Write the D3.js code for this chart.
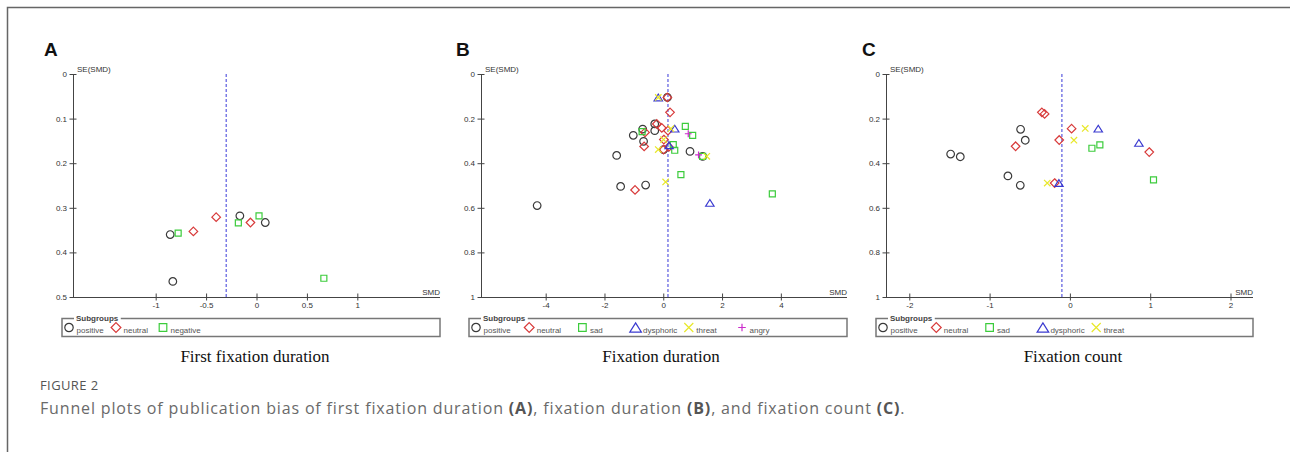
<!DOCTYPE html>
<html>
<head>
<meta charset="utf-8">
<script src="https://cdn.jsdelivr.net/npm/d3@7"></script>
<style>
  body { margin: 0; background: #fff; }
  svg { display: block; }
</style>
</head>
<body>
<script>
// funnel plot data: [SMD, SE(SMD)] per study
const aPositive = [[-0.856, 0.360], [-0.83, 0.465], [-0.165, 0.318], [0.087, 0.333]];
const aNeutral = [[-0.626, 0.353], [-0.40, 0.321], [-0.06, 0.333]];
const aNegative = [[-0.777, 0.357], [-0.18, 0.334], [0.025, 0.318], [0.668, 0.458]];

const bPositive = [[-4.29, 0.590], [-1.585, 0.365], [-1.45, 0.504], [-1.02, 0.275], [-0.70, 0.247],
  [-0.67, 0.302], [-0.60, 0.498], [-0.29, 0.224], [-0.29, 0.254], [0.14, 0.105], [0.01, 0.339],
  [0.91, 0.347], [1.34, 0.369]];
const bNeutral = [[0.14, 0.105], [0.23, 0.172], [-0.22, 0.224], [-0.05, 0.242], [0.16, 0.254],
  [-0.62, 0.262], [-0.65, 0.325], [0.02, 0.294], [0.01, 0.339], [0.19, 0.327], [-0.96, 0.52]];
const bSad = [[0.75, 0.235], [1.0, 0.275], [0.34, 0.317], [0.39, 0.342], [0.60, 0.451],
  [3.71, 0.538], [-0.72, 0.258], [1.34, 0.369]];
const bDysphoric = [[-0.17, 0.105], [0.39, 0.245], [1.585, 0.578], [0.2, 0.32]];
const bThreat = [[-0.17, 0.105], [0.26, 0.245], [-0.17, 0.339], [0.08, 0.484], [1.48, 0.369], [0.01, 0.294]];
const bAngry = [[0.85, 0.268], [1.2, 0.363]];

const cPositive = [[-1.485, 0.359], [-1.365, 0.371], [-0.614, 0.248], [-0.556, 0.297], [-0.772, 0.457], [-0.618, 0.499]];
const cNeutral = [[-0.349, 0.172], [-0.315, 0.179], [-0.676, 0.324], [-0.133, 0.296], [0.021, 0.245],
  [0.988, 0.350], [-0.19, 0.489]];
const cSad = [[0.274, 0.333], [0.373, 0.318], [1.041, 0.475]];
const cDysphoric = [[0.353, 0.245], [0.859, 0.309], [-0.137, 0.489]];
const cThreat = [[0.191, 0.244], [0.05, 0.297], [-0.282, 0.489]];

// pooled SMD (dashed line) per panel
const pooledSMD = [-0.30, 0.16, -0.10];

// tick labels
const aXTicks = [-1, -0.5, 0, 0.5, 1];
const aYTicks = [0, 0.1, 0.2, 0.3, 0.4, 0.5];
const bXTicks = [-4, -2, 0, 2, 4];
const bYTicks = [0, 0.2, 0.4, 0.6, 0.8, 1];
const cXTicks = [-2, -1, 0, 1, 2];
const cYTicks = [0, 0.2, 0.4, 0.6, 0.8, 1];

const panelTitles = ["First fixation duration", "Fixation duration", "Fixation count"];

const shapes = {
  positive: { shape: "circle", color: "#3a3a3a", r: 3.8, lr: 4.2 },
  neutral: { shape: "diamond", color: "#d83a3a", r: 4.3, lr: 4.9 },
  negative: { shape: "square", color: "#3ccc3c", r: 3, lr: 3.8 },
  sad: { shape: "square", color: "#3ccc3c", r: 3, lr: 3.8 },
  dysphoric: { shape: "triangle", color: "#3a3ad0", r: 4.2, lr: 5.8 },
  threat: { shape: "x", color: "#e8e82a", r: 3.2, lr: 4.5 },
  angry: { shape: "plus", color: "#cc2ccc", r: 3.4, lr: 3.8 }
};

function markerPath(shape, r) {
  const p = d3.path();
  if (shape === "circle") {
    p.moveTo(r, 0);
    p.arc(0, 0, r, 0, 2 * Math.PI);
  } else if (shape === "diamond") {
    p.moveTo(0, -r); p.lineTo(r, 0); p.lineTo(0, r); p.lineTo(-r, 0); p.closePath();
  } else if (shape === "square") {
    p.rect(-r, -r, 2 * r, 2 * r);
  } else if (shape === "triangle") {
    const h = r * 1.6;
    p.moveTo(0, -h / 2); p.lineTo(r, h / 2); p.lineTo(-r, h / 2); p.closePath();
  } else if (shape === "x") {
    p.moveTo(-r, -r); p.lineTo(r, r); p.moveTo(r, -r); p.lineTo(-r, r);
  } else {
    p.moveTo(-r, 0); p.lineTo(r, 0); p.moveTo(0, -r); p.lineTo(0, r);
  }
  return p.toString();
}

const panels = [
  { letter: "A", lx: 44, left: 73, right: 440, xDomain: [-1.82, 1.82], yDomain: [0, 0.5],
    xTicks: aXTicks, yTicks: aYTicks, pooled: pooledSMD[0], title: panelTitles[0], tx: 255,
    legLeft: 62, legStep: 47,
    series: [["positive", aPositive], ["neutral", aNeutral], ["negative", aNegative]] },
  { letter: "B", lx: 456, left: 481, right: 847, xDomain: [-6.2, 6.25], yDomain: [0, 1],
    xTicks: bXTicks, yTicks: bYTicks, pooled: pooledSMD[1], title: panelTitles[1], tx: 661,
    legLeft: 469, legStep: 53.2,
    series: [["positive", bPositive], ["neutral", bNeutral], ["sad", bSad],
      ["dysphoric", bDysphoric], ["threat", bThreat], ["angry", bAngry]] },
  { letter: "C", lx: 862, left: 886, right: 1253, xDomain: [-2.29, 2.28], yDomain: [0, 1],
    xTicks: cXTicks, yTicks: cYTicks, pooled: pooledSMD[2], title: panelTitles[2], tx: 1073,
    legLeft: 876, legStep: 53.3,
    series: [["positive", cPositive], ["neutral", cNeutral], ["sad", cSad],
      ["dysphoric", cDysphoric], ["threat", cThreat]] }
];

const svg = d3.select("body")
  .append("svg")
  .attr("width", 1290)
  .attr("height", 452);

// frame of the figure box
svg.append("path")
  .attr("d", "M7.5,452V7.5H1290")
  .attr("fill", "none")
  .attr("stroke", "#666")
  .attr("stroke-width", 1.5);

const plotTop = 74, plotBottom = 297;

panels.forEach(pn => {
  const g = svg.append("g");

  const x = d3.scaleLinear().domain(pn.xDomain).range([pn.left, pn.right]);
  const y = d3.scaleLinear().domain(pn.yDomain).range([plotTop, plotBottom]);

  g.append("text")
    .attr("x", pn.lx)
    .attr("y", 56)
    .attr("font-family", "Liberation Sans, Arial, sans-serif")
    .attr("font-weight", "bold")
    .attr("font-size", 19)
    .attr("fill", "#111")
    .text(pn.letter);

  // axes
  const xAxis = d3.axisBottom(x)
    .tickValues(pn.xTicks)
    .tickSize(3.5)
    .tickPadding(1.5)
    .tickFormat(d => String(d));
  const yAxis = d3.axisLeft(y)
    .tickValues(pn.yTicks)
    .tickSize(3.5)
    .tickPadding(2.5)
    .tickFormat(d => String(d));

  const xg = g.append("g")
    .attr("transform", `translate(0, ${plotBottom})`)
    .call(xAxis);
  const yg = g.append("g")
    .attr("transform", `translate(${pn.left}, 0)`)
    .call(yAxis);

  [xg, yg].forEach(ax => {
    ax.select(".domain").remove();
    ax.selectAll("line").attr("stroke", "#444");
    ax.selectAll("text")
      .attr("font-family", "Liberation Sans, Arial, sans-serif")
      .attr("font-size", 8)
      .attr("fill", "#333");
  });
  xg.selectAll(".tick line").attr("y1", -3.5);
  yg.selectAll(".tick line").attr("x1", 3.5);

  g.append("line")
    .attr("x1", pn.left).attr("x2", pn.right)
    .attr("y1", plotBottom + 0.5).attr("y2", plotBottom + 0.5)
    .attr("stroke", "#444");
  g.append("line")
    .attr("x1", pn.left + 0.5).attr("x2", pn.left + 0.5)
    .attr("y1", plotTop).attr("y2", plotBottom)
    .attr("stroke", "#444");

  g.append("text")
    .attr("x", pn.left + 4)
    .attr("y", 71.5)
    .attr("font-family", "Liberation Sans, Arial, sans-serif")
    .attr("font-size", 8)
    .attr("fill", "#333")
    .text("SE(SMD)");
  g.append("text")
    .attr("x", pn.right)
    .attr("y", 294.5)
    .attr("text-anchor", "end")
    .attr("font-family", "Liberation Sans, Arial, sans-serif")
    .attr("font-size", 8)
    .attr("fill", "#333")
    .text("SMD");

  // pooled estimate
  g.append("line")
    .attr("x1", x(pn.pooled)).attr("x2", x(pn.pooled))
    .attr("y1", plotTop).attr("y2", plotBottom)
    .attr("stroke", "#7b7be6")
    .attr("stroke-width", 1.5)
    .attr("stroke-dasharray", "3,2");

  // studies
  pn.series.forEach(([name, pts]) => {
    const st = shapes[name];
    g.selectAll(null)
      .data(pts)
      .enter()
      .append("path")
      .attr("transform", d => `translate(${x(d[0])}, ${y(d[1])})`)
      .attr("d", markerPath(st.shape, st.r))
      .attr("fill", "none")
      .attr("stroke", st.color)
      .attr("stroke-width", 1.2);
  });

  // legend
  g.append("rect")
    .attr("x", pn.legLeft)
    .attr("y", 318.5)
    .attr("width", pn.right - pn.legLeft)
    .attr("height", 18)
    .attr("fill", "none")
    .attr("stroke", "#777")
    .attr("stroke-width", 1.5);
  const subBg = g.append("rect").attr("fill", "#fff");
  const sub = g.append("text")
    .attr("x", pn.legLeft + 14)
    .attr("y", 321)
    .attr("font-family", "Liberation Sans, Arial, sans-serif")
    .attr("font-weight", "bold")
    .attr("font-size", 8)
    .attr("fill", "#444")
    .text("Subgroups");
  const bb = sub.node().getBBox();
  subBg.attr("x", bb.x - 2).attr("y", 316)
    .attr("width", bb.width + 4).attr("height", 5);

  pn.series.forEach(([name], i) => {
    const st = shapes[name];
    const cx = pn.legLeft + 7 + i * pn.legStep;
    g.append("path")
      .attr("transform", `translate(${cx}, 327.5)`)
      .attr("d", markerPath(st.shape, st.lr))
      .attr("fill", "none")
      .attr("stroke", st.color)
      .attr("stroke-width", 1.2);
    g.append("text")
      .attr("x", cx + 7.5)
      .attr("y", 332.5)
      .attr("font-family", "Liberation Sans, Arial, sans-serif")
      .attr("font-size", 8)
      .attr("fill", "#555")
      .text(name);
  });

  g.append("text")
    .attr("x", pn.tx)
    .attr("y", 362)
    .attr("text-anchor", "middle")
    .attr("font-family", "Liberation Serif, Times New Roman, serif")
    .attr("font-size", 17)
    .attr("fill", "#111")
    .text(pn.title);
});

// figure caption
svg.append("text")
  .attr("x", 40)
  .attr("y", 390)
  .attr("font-family", "Open Sans, sans-serif")
  .attr("font-size", 13)
  .attr("fill", "#555")
  .attr("letter-spacing", 0.4)
  .text("FIGURE 2");

const cap = svg.append("text")
  .attr("x", 40)
  .attr("y", 414)
  .attr("font-family", "Open Sans, sans-serif")
  .attr("font-size", 16)
  .attr("fill", "#6a6a6a")
  .attr("letter-spacing", 0.85);
[["Funnel plots of publication bias of first fixation duration ", false], ["(A)", true],
 [", fixation duration ", false], ["(B)", true], [", and fixation count ", false],
 ["(C)", true], [".", false]].forEach(([t, b]) => {
  cap.append("tspan")
    .attr("font-weight", b ? "bold" : null)
    .attr("fill", b ? "#555" : null)
    .text(t);
});
</script>
</body>
</html>
